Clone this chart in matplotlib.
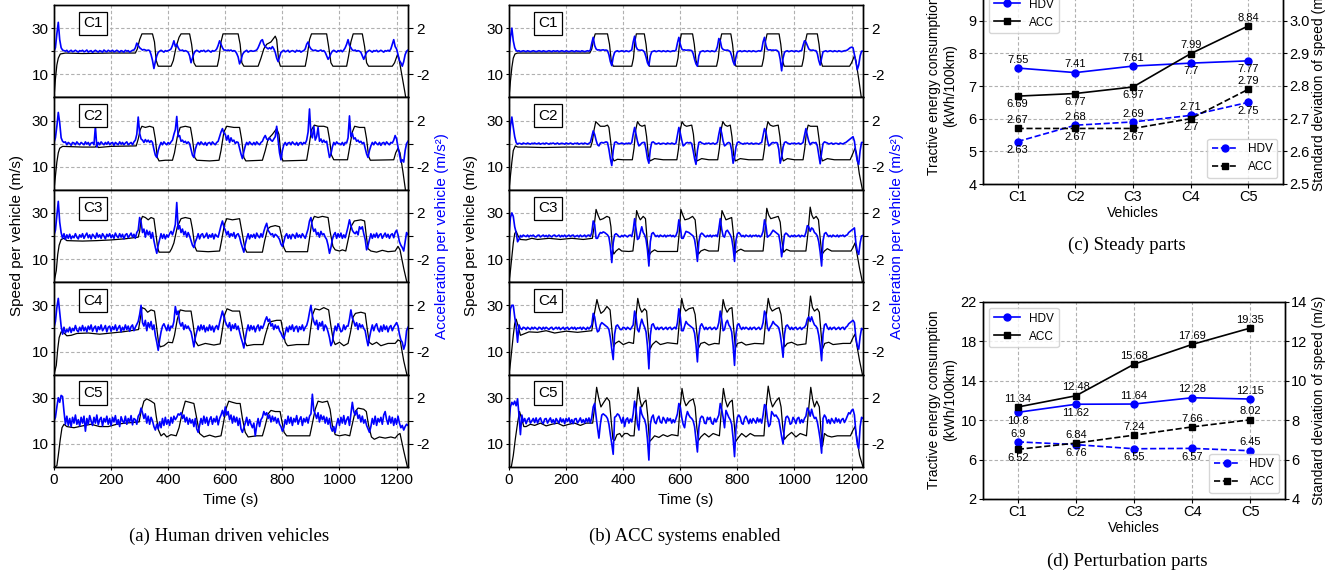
import numpy as np
import matplotlib
matplotlib.use('Agg')
import matplotlib.pyplot as plt
from matplotlib.ticker import FormatStrFormatter

plt.rcParams['font.family'] = ['Liberation Sans', 'DejaVu Sans']
plt.rcParams['axes.linewidth'] = 1.0

# ---------------- data ----------------
vehicles = ['C1', 'C2', 'C3', 'C4', 'C5']
time_ticks = [0, 200, 400, 600, 800, 1000, 1200]
speed_ticks = [10, 20, 30]
speed_tick_labels = ['10', '', '30']
acc_ticks = [-2, 0, 2]
acc_tick_labels = ['-2', '', '2']
acc_step = 5  # s, sampling step of acceleration values

# speed (time s, speed m/s) -- human driven
hdv_speed_c1 = [(0,0),(5,8),(10,14),(15,17),(22,18.8),(40,19.2),(100,19),(200,19.2),(285,19.2),(292,21),(300,25),(308,27.5),(345,27.5),(352,24),(358,16),(365,13.5),(410,13.5),(418,16),(428,22),(438,26),(445,27.5),(475,27.5),(482,23),(490,15),(497,13.5),(572,13.5),(578,17),(585,24),(592,27.5),(645,27.5),(652,23),(658,15),(665,13.5),(715,13.5),(725,17),(735,21),(745,23),(760,24),(775,26.5),(780,25),(787,16),(793,13.5),(880,13.5),(887,18),(895,25),(902,27.5),(955,27.5),(962,22),(970,15),(977,13.5),(1025,13.5),(1032,18),(1040,24),(1048,27.5),(1080,27.5),(1088,22),(1095,15),(1102,13.5),(1185,13.5),(1193,15),(1203,18.5),(1208,17),(1218,10),(1228,3),(1232,0)]
hdv_speed_c2 = [(0,0),(5,6),(10,12),(15,16),(20,18),(30,18.8),(100,18.5),(145,18.5),(150,19.5),(155,18.3),(200,18.8),(288,19),(295,22),(302,26),(308,27.5),(320,27),(335,27.5),(348,27),(355,22),(362,14),(368,12.5),(390,12.8),(415,12.8),(422,16),(432,23),(442,27),(460,27.5),(478,27),(485,22),(493,14),(500,12.8),(545,12.5),(578,12.8),(585,17),(595,25),(605,27.5),(630,27),(650,27),(657,22),(665,14),(672,12.5),(730,12.8),(740,17),(750,22),(765,24),(780,26.5),(788,24),(795,15),(802,12.5),(885,12.8),(892,18),(902,26),(912,28),(925,27.5),(945,27.5),(958,27),(965,22),(972,15),(980,13),(1028,13),(1035,18),(1045,25),(1053,27.5),(1070,27),(1088,27),(1095,22),(1102,14.5),(1108,12.8),(1190,13),(1197,16),(1205,18),(1212,16),(1222,8),(1231,0)]
hdv_speed_c3 = [(0,0),(8,5),(13,12),(18,16),(25,18.5),(35,19),(45,18),(100,17.8),(150,18),(200,18.3),(250,18.8),(295,19.5),(300,22),(305,27),(310,28.5),(320,28),(330,27),(340,28),(350,27.5),(356,22),(363,15),(368,13),(405,13),(412,14.5),(420,17),(432,24),(445,27.5),(460,28),(478,27.5),(485,23),(493,15.5),(500,13.5),(540,13.2),(580,13.5),(587,18),(597,25),(605,27.5),(625,27),(650,27.5),(658,22),(668,15),(675,13),(730,13),(738,18),(748,23),(758,24),(775,24.5),(790,24),(797,20),(805,15),(812,13.2),(888,13.2),(895,19),(903,26),(912,28.5),(925,28),(940,28.5),(960,28),(967,22),(977,15.5),(985,14),(1000,13.5),(1010,14),(1022,13.5),(1028,17),(1040,24),(1052,26.5),(1075,27),(1088,26.5),(1094,20),(1100,14.5),(1110,13.5),(1130,13),(1150,13.8),(1170,13.2),(1195,13.5),(1205,15.5),(1212,14),(1225,6),(1236,0)]
hdv_speed_c4 = [(0,0),(8,4),(13,11),(18,16),(25,18.5),(35,18),(45,16.8),(60,17),(80,17.8),(120,18),(160,17.5),(200,18),(240,18.5),(296,19.5),(302,24),(308,29),(318,28.5),(328,27),(340,28),(352,27.5),(358,22),(366,14),(372,12),(385,12.5),(400,14),(415,13.8),(422,17),(432,24),(442,28),(460,27.5),(480,27.5),(487,22),(495,14.5),(505,12.5),(530,13.5),(560,12.8),(582,13.3),(588,18),(598,26),(606,28.5),(625,27.5),(650,27.5),(658,22),(668,14.5),(675,12.5),(700,13),(732,13),(740,17),(752,22),(762,23),(780,23.5),(795,23.5),(802,19),(810,14),(818,12.5),(850,13),(892,13),(898,19),(906,26),(914,28.5),(930,28),(945,29),(962,28),(970,21),(978,15),(985,13),(1000,14),(1015,12.5),(1030,13.5),(1038,18),(1048,25),(1056,26.5),(1075,27),(1090,26.5),(1097,20),(1104,14),(1115,13),(1130,14),(1145,12.5),(1170,13.5),(1195,13.5),(1205,15),(1213,14.5),(1225,6),(1236,0)]
hdv_speed_c5 = [(0,0),(10,0.5),(15,5),(22,12),(28,17),(35,18.5),(45,17.5),(70,17),(100,17.8),(130,18.5),(160,17.5),(190,17.5),(220,18.5),(250,19),(298,19.5),(305,24),(315,28.5),(325,29.5),(340,28.5),(352,27.5),(358,22),(366,16),(375,13.5),(385,14.5),(395,13),(410,14),(428,13.5),(438,17),(450,24),(460,28.5),(475,28),(490,27.5),(500,21),(510,14.5),(525,13),(545,13.8),(565,13),(585,13.5),(592,18),(602,25),(612,28.5),(625,28),(640,27.5),(652,27.5),(660,21),(670,15),(680,13),(710,13.5),(730,13.5),(738,17),(750,23),(760,24.5),(775,24),(792,24),(798,20),(806,15),(815,13.5),(860,13.5),(896,13.5),(902,17),(915,25),(925,28.5),(940,28),(958,28.5),(967,25),(975,18),(985,14),(1000,13.5),(1020,14),(1036,13.5),(1042,17),(1055,24),(1065,25.5),(1085,25),(1094,24),(1102,18),(1112,13),(1122,12),(1140,13),(1160,12.5),(1180,13),(1195,12.5),(1205,14),(1212,14.5),(1225,7),(1238,0)]

# acceleration (m/s^2) every 5 s from t = 0 -- human driven
hdv_acc_c1 = [
    0, 0.3, 1.5, 2.5, 1.0, 0.3, 0.1, 0.05, 0, 0.08, -0.08, 0, 0.08, -0.05, 0, 0.08, 0, -0.08, 0.05, 0,
    0.08, -0.05, 0, 0.1, -0.08, 0, 0.05, -0.1, 0, 0.08, 0, -0.08, 0.05, 0, -0.08, 0.1, 0, -0.05, 0.08, 0,
    0, 0.08, -0.05, 0, 0.08, 0, -0.08, 0.05, 0, -0.08, 0.08, 0, 0.05, -0.08, 0, 0.08, 0.1, 0.3, 0.7, 0.5,
    0.3, 0.2, 0.1, 0.15, 0.1, 0.05, 0.1, 0.05, -0.3, -0.8, -1.5, -0.9, -0.4, -0.1, 0, 0.08, 0, -0.08, 0.05, 0,
    0.05, 0.1, 0.2, 0.5, 0.9, 0.4, 0.6, 0.3, 0.1, 0.05, 0.1, 0, 0.05, 0, -0.1, -0.4, -1.0, -0.6, -0.2, 0,
    0.08, 0, -0.08, 0.05, 0, 0.08, -0.05, 0, 0.08, 0, -0.08, 0.05, 0, 0.05, 0.2, 0.5, 0.9, 0.6, 0.3, 0.1,
    0.1, 0.05, 0.1, 0.05, 0.1, 0, 0.05, 0, -0.2, -0.5, -1.1, -0.8, -0.3, -0.1, 0, 0.08, -0.08, 0, 0.05, 0,
    0, 0.05, 0.1, 0.3, 0.6, 0.9, 1.0, 0.6, 0.4, 0.3, 0.2, 0.3, 0.2, 0.4, 0.2, -0.1, -0.6, -0.9, -0.5, -0.1,
    0, 0.08, -0.05, 0, 0.08, -0.08, 0, 0.05, 0, -0.08, 0.08, 0, 0.05, -0.08, 0, 0.05, 0.2, 0.6, 0.8, 0.4,
    0.2, 0.1, 0.05, 0.1, 0.05, 0, 0.05, 0.1, 0, 0.05, -0.1, -0.4, -0.7, -0.5, -0.2, 0, 0.08, 0, -0.08, 0.05,
    0, 0.08, -0.05, 0.1, 0.3, 0.6, 1.0, 0.5, 0.3, 0.1, 0.05, 0.1, 0, 0.05, 0, -0.1, -0.4, -0.7, -0.4, -0.1,
    0, 0.08, 0, -0.08, 0.05, 0, 0.08, -0.05, 0, 0.08, 0, -0.08, 0.05, 0, 0.08, 0, 0.2, 0.6, 1.0, 0.4,
    0.2, -0.3, -0.8, -1.0, -1.3, -0.9, -0.3, 0, 0.1]
hdv_acc_c2 = [
    0.1, 0.5, 1.5, 2.7, 1.8, 0.5, 0.2, 0.1, 0.15, -0.1, 0.1, 0, -0.15, 0.1, 0.05, -0.1, 0.15, 0, -0.1, 0.1,
    0, -0.1, 0.15, -0.05, 0.1, -0.15, 0.05, 0.1, -0.1, 1.5, -0.3, 0.1, -0.1, 0.15, 0, -0.1, 0.1, -0.05, 0.15, -0.1,
    0.05, 0.1, -0.15, 0.1, 0, -0.1, 0.15, -0.05, 0.1, -0.1, 0.05, 0.15, -0.1, 0, 0.1, -0.1, 0.15, 0.3, 0.8, 2.3,
    0.9, 0.4, 0.3, 0.1, 0.35, 0.15, 0.3, 0.1, 0.25, 0.1, -0.5, -1.0, -1.2, -0.6, -0.2, 0.1, -0.1, 0.15, 0, -0.1,
    0.1, -0.05, 0.15, 0.3, 0.8, 1.2, 2.35, 0.6, 0.7, 0.2, 0.3, 0.1, 0.2, 0, 0.15, 0, -0.5, -1.0, -1.2, -0.5,
    -0.1, 0.1, -0.1, 0.15, 0, -0.1, 0.1, -0.15, 0.05, 0.1, -0.1, 0.15, 0, -0.1, 0.1, 0.2, 0.6, 1.0, 1.3, 0.9,
    0.8, 0.3, 0.7, 0.1, 0.5, 0.2, 0.3, 0, 0.15, 0.1, -0.4, -0.9, -1.3, -0.7, -0.2, 0.1, -0.1, 0.15, 0, -0.1,
    0.1, -0.1, 0.15, 0, -0.1, 0.1, 0.2, 0.5, 0.7, 0.4, 0.3, 0.5, 0.3, 0.2, 0.4, 0.6, 1.5, 0.3, -0.8, -1.4,
    -0.6, -0.1, 0.1, -0.15, 0.05, 0.1, -0.1, 0.15, 0, -0.1, 0.1, -0.15, 0.05, 0.1, -0.1, 0.1, 0, 0.3, 1.0, 3.0,
    0.8, 0.5, 1.5, 0.3, 0.6, 1.4, 0.2, 0.4, 0.1, 0.3, 0.1, 0.2, -0.5, -1.2, -0.9, -0.3, 0.1, -0.1, 0.15, 0,
    0, -0.1, 0.1, -0.15, 0.1, 0.05, 0.5, 2.4, 0.6, 0.9, 0.4, 0.5, 0.2, 0.3, 0.1, 0.2, 0, 0.1, -0.4, -0.9,
    -1.2, -0.6, -0.2, 0.1, -0.1, 0.15, 0, -0.1, 0.1, -0.15, 0.05, 0.1, -0.1, 0.15, 0, -0.1, 0.1, 0.05, 0.3, 0.7,
    0.4, -0.3, -0.9, -1.6, -1.4, -1.6, -0.6, 0, 0.2]
hdv_acc_c3 = [
    0.1, 0.5, 1.8, 3.0, 1.2, 0.3, -0.2, 0.2, -0.3, 0.1, -0.2, 0.15, -0.25, 0, -0.15, 0.2, -0.1, -0.25, 0.1, -0.1,
    0.2, -0.2, 0.05, 0.25, -0.15, 0.1, -0.25, 0.15, 0, -0.2, 0.25, -0.1, 0.1, -0.2, 0.2, 0, -0.25, 0.15, -0.05, 0.2,
    -0.15, 0.1, -0.2, 0.25, 0, -0.15, 0.2, -0.1, 0.15, -0.25, 0.1, 0.2, -0.15, 0.05, 0.25, -0.1, 0.15, -0.2, 0.3, 0.5,
    1.6, 1.2, 0.3, 0.6, -0.1, 0.5, 0.1, 0.4, -0.2, 0.3, -0.4, -1.0, -1.5, -0.8, -0.3, 0.2, -0.2, 0.15, -0.25, 0.1,
    -0.1, 0.2, 0.4, 0.1, 0.5, 1.0, 2.9, 0.6, 0.9, 0.3, 0.6, 0.1, 0.4, -0.1, 0.3, 0, -0.4, -0.8, -1.0, -0.5,
    -0.2, 0.2, -0.25, 0.1, 0.2, -0.15, 0, 0.25, -0.2, 0.1, -0.1, 0.2, -0.25, 0.15, 0, -0.1, 0.4, 0.9, 1.3, 0.8,
    0.5, 0.1, 0.4, -0.1, 0.2, 0, 0.3, -0.2, 0.1, 0.2, -0.1, -0.6, -1.0, -1.4, -0.7, -0.2, 0.2, -0.25, 0.1, -0.1,
    0.15, -0.2, 0.25, 0, -0.15, 0.2, -0.1, 0.4, 0.8, 1.1, 0.5, 0.3, 0.1, 0.2, -0.1, 0.15, 0.05, -0.1, -0.3, -0.7,
    -0.9, -0.5, 0, 0.2, -0.2, 0.1, -0.25, 0.15, 0.05, -0.2, 0.25, -0.1, 0.1, -0.15, 0.2, 0, -0.2, 0.2, 0.6, 1.3,
    1.6, 0.8, 0.4, 0.6, 0.1, 0.3, -0.1, 0.4, 0.1, 0.2, -0.1, -0.3, -0.8, -1.5, -1.0, -0.3, 0.1, 0.3, -0.2, 0.2,
    -0.1, 0.25, -0.2, 0.1, -0.15, 0.3, 0.8, 1.4, 0.9, 0.5, 0.3, 0.2, 0.4, 0.1, 0.8, 0.6, 0.8, 0.2, -0.3, -1.2,
    -0.8, -0.3, 0.2, -0.2, 0.15, -0.1, 0.25, -0.15, 0.1, 0.2, -0.2, 0.05, 0.25, -0.1, 0.15, -0.2, 0.1, 0.2, -0.15, 0.3,
    0.5, 0.1, -0.5, -0.8, -1.0, -1.3, -0.5, 0.3, 0.1]
hdv_acc_c4 = [
    0.1, 0.6, 1.8, 2.6, 1.4, 0.2, -0.5, 0.1, -0.4, -0.1, -0.3, 0.1, -0.35, 0, -0.2, 0.25, -0.15, -0.3, 0.1, -0.2,
    0.25, -0.2, 0.1, -0.3, 0.2, -0.1, 0.3, -0.25, 0.05, 0.2, -0.3, 0.15, -0.1, 0.3, -0.2, 0, 0.25, -0.3, 0.1, 0.2,
    -0.25, 0.15, -0.1, 0.3, -0.2, 0.05, 0.25, -0.3, 0.1, -0.15, 0.3, -0.1, 0.2, -0.25, 0.15, 0.3, -0.2, 0.1, 0.35, 0.6,
    1.2, 2.0, 0.5, 0.2, 0.7, -0.2, 0.5, 0.1, 0.6, -0.1, 0.3, -0.6, -1.2, -1.9, -1.0, -0.3, 0.2, 0.4, 0.1, -0.2,
    0.3, -0.2, 0.2, 0.1, 0.6, 1.9, 1.2, 1.5, 0.5, 0.2, 0.5, -0.1, 0.3, 0, 0.2, -0.1, -0.3, -0.9, -1.6, -0.8,
    -0.3, 0.2, -0.2, 0.3, -0.1, 0.25, -0.3, 0.1, -0.2, 0.3, -0.15, 0.2, -0.3, 0.1, 0.25, -0.1, 0.5, 1.0, 1.5, 1.0,
    0.6, 0.3, 0.1, 0.5, -0.2, 0.3, 0, 0.4, -0.1, 0.2, -0.3, -0.8, -1.2, -1.7, -0.9, -0.2, 0.3, -0.2, 0.25, -0.1,
    0.2, -0.3, 0.1, 0.3, -0.2, 0.2, 0, 0.3, 0.7, 1.0, 0.6, 0.8, 0.2, 0.4, -0.1, 0.3, 0, 0.2, -0.2, -0.4,
    -0.7, -0.9, -0.4, 0.1, -0.3, 0.2, -0.1, 0.3, -0.25, 0.1, 0.2, -0.3, 0.15, -0.1, 0.3, -0.2, 0.1, 0.25, 0.7, 1.4,
    2.0, 1.1, 0.6, 0.3, 0.7, -0.1, 0.5, 0.2, 0.6, -0.2, 0.3, 0.1, -0.3, -0.8, -1.5, -1.2, -0.4, 0.2, -0.2, 0.4,
    0.1, -0.3, -0.2, 0.3, -0.1, 0.2, 0.2, 0.8, 1.6, 0.9, 0.6, 0.2, 0.5, -0.1, 0.4, 0.1, 0.3, 0, -0.2, -0.9,
    -1.5, -0.8, -0.2, 0.3, -0.2, 0.2, 0.4, -0.1, -0.3, 0.2, -0.25, 0.3, -0.1, 0.2, -0.3, 0.1, 0.25, -0.2, 0.1, 0.3,
    0.5, 0.2, -0.5, -1.0, -1.2, -1.8, -1.4, -0.2, 0.1]
hdv_acc_c5 = [
    0, 0.3, 1.2, 2.0, 1.6, 2.2, 2.1, 0.8, -0.3, 0.4, -0.4, 0.2, -0.5, 0.3, -0.2, 0.5, -0.3, 0.1, -0.45, 0.3,
    -0.2, 0.4, -0.9, 0.2, -0.3, 0.45, 0, -0.4, 0.3, -0.2, 0.5, -0.35, 0.1, 0.3, -0.45, 0.2, -0.1, 0.4, -0.3, 0.2,
    -0.4, 0.3, -0.1, 0.45, -0.3, 0.1, -0.5, 0.35, 0, -0.2, 0.4, -0.3, 0.2, -0.1, 0.45, -0.35, 0.2, 0.1, -0.3, 0.4,
    0.6, 1.1, 0.7, 0.2, 0.6, -0.2, 0.4, -0.3, 0.3, 0, -0.5, -0.8, -0.3, -0.7, -0.1, -0.6, 0.2, -0.4, 0.3, -0.3,
    0.1, -0.4, 0.3, -0.2, 0.4, 0.1, 0.3, 0.6, 0.5, 0.7, 0.2, 0.5, -0.1, 0.3, -0.3, 0.2, -0.2, 0.1, -0.5, 0.2,
    -0.7, -1.0, -0.4, 0.2, -0.3, 0.4, -0.2, 0.3, -0.4, 0.1, 0.35, -0.3, 0.2, -0.1, 0.4, -0.35, 0.2, 0.5, 0.9, 0.4,
    1.2, 0.5, 0.8, 0.1, 0.5, -0.2, 0.4, -0.1, 0.3, -0.4, 0.2, -0.7, -1.0, -0.6, -0.2, 0.3, -0.4, 0.1, -0.3, -0.6,
    -0.2, -1.3, -0.4, 0.2, -0.5, 0.1, 0.3, 0.8, 0.5, 0.7, 0.2, 0.5, -0.1, 0.4, 0, 0.3, -0.2, 0.2, -0.3, -0.5,
    -0.9, -0.6, 0.1, -0.3, 0.4, -0.2, 0.3, -0.4, 0.2, -0.1, 0.45, -0.3, 0.1, 0.35, -0.4, 0.2, -0.1, 0.3, -0.2, 0.4,
    0.6, 2.3, 0.9, 0.6, 0.2, 0.7, -0.1, 0.5, 0.1, 0.4, -0.2, 0.3, -0.3, 0.2, -0.6, -0.9, -0.5, -1.0, -0.3, 0.2,
    -0.4, 0.3, -0.2, 0.45, -0.3, 0.1, 0.35, -0.4, 0.6, 1.6, 0.8, 0.5, 0.9, 0.2, 0.5, -0.1, 0.4, -0.2, 0.1, -0.4,
    -0.7, -1.0, -0.5, 0.2, -0.3, 0.4, -0.4, 0.2, -0.1, 0.3, -0.3, 0.5, 0.8, 0.1, -0.3, 0.4, -0.2, 0.3, -0.4, 0.2,
    -0.3, 0.4, -0.2, -0.6, -0.4, -0.8, -0.5, -0.3, -0.4]

# speed -- ACC systems enabled
acc_speed_c1 = [(0,0),(5,7),(10,13),(15,17),(21,18.8),(30,19.2),(283,19.2),(290,21),(296,25),(302,27.5),(345,27.5),(352,23),(358,16),(365,13.5),(430,13.5),(436,17),(441,24),(446,27.5),(474,27.5),(480,23),(486,16),(492,13.5),(586,13.5),(592,17),(598,24),(604,27.5),(643,27.5),(649,23),(655,16),(661,13.5),(727,13.5),(733,17),(739,24),(745,27.5),(777,27.5),(783,23),(789,16),(795,13.5),(886,13.5),(892,17),(898,24),(904,27.5),(946,27.5),(952,23),(958,16),(964,13.5),(1026,13.5),(1032,17),(1038,24),(1044,27.5),(1080,27.5),(1086,23),(1092,16),(1098,13.5),(1193,13.5),(1200,15),(1210,18),(1215,16),(1225,8),(1234,0)]
acc_speed_c2 = [(0,0),(5,6),(10,12),(15,17),(22,19),(30,18.5),(60,18.5),(120,18.3),(200,18.5),(286,18.5),(292,21),(298,26),(304,29.5),(312,28.5),(320,27.5),(335,27.5),(345,28),(350,27),(356,21),(362,14),(368,12.5),(380,13.2),(400,13),(432,13),(438,18),(444,26),(450,29.5),(458,28),(466,27.5),(476,28),(482,23),(488,15),(494,12.5),(510,13.5),(540,13),(588,13),(594,18),(600,26),(606,29.5),(614,28),(622,27.5),(640,28),(646,24),(652,16),(658,12.5),(675,13.5),(700,13),(731,13),(737,18),(743,26),(749,29.5),(757,28),(765,27.5),(775,28),(781,23),(787,15),(793,12.5),(810,13.5),(840,13),(889,13),(895,18),(901,26),(907,29.5),(915,28),(925,27.5),(943,28),(949,23),(955,15),(961,12.5),(975,13.5),(1000,13),(1030,13),(1036,18),(1042,25),(1048,28),(1056,27.5),(1070,27.5),(1080,27.5),(1086,22),(1092,15),(1098,12.5),(1115,13.5),(1140,13),(1195,13),(1202,15),(1212,18),(1217,16),(1227,7),(1238,0)]
acc_speed_c3 = [(0,0),(5,5),(10,11),(15,17),(20,21),(25,22),(32,20),(40,18.5),(60,18.3),(80,19),(100,18.5),(140,19),(180,18.5),(220,19),(260,18.5),(292,19),(298,24),(305,31.5),(312,29),(319,27),(330,27.5),(343,28.5),(352,28),(357,24),(362,15),(367,12.2),(375,13.5),(385,14.5),(395,13.5),(420,13.3),(434,13.5),(440,20),(447,31),(454,28.5),(460,27),(470,28.5),(478,27.5),(484,18),(490,11.5),(498,13),(510,14),(520,13.3),(590,13.3),(596,21),(602,31.5),(609,29),(616,27),(630,27.5),(643,28.5),(652,27),(658,19),(664,12.2),(672,13.5),(685,14.2),(700,13.5),(733,13.5),(739,21),(746,31),(753,29),(760,27),(770,27.5),(780,28),(786,21),(792,12.5),(800,13.5),(812,14.3),(825,13.5),(890,13.5),(896,21),(903,32),(910,29),(917,27.5),(930,28),(943,28.5),(950,26),(956,18),(962,13),(972,14.2),(985,13.5),(1040,13.5),(1047,21),(1055,32.5),(1061,29),(1067,27.5),(1076,28.5),(1084,27),(1090,19),(1096,12),(1105,13.5),(1115,14.5),(1130,13.5),(1198,13.5),(1205,15),(1212,17),(1218,13),(1228,6),(1238,0)]
acc_speed_c4 = [(0,0),(5,5),(10,11),(15,17),(20,22),(25,24),(32,21),(40,17),(50,17.5),(70,18.5),(100,18.3),(130,19),(160,18),(200,18.8),(240,18.3),(290,19),(297,25),(308,32.5),(315,29),(322,26.5),(332,27.5),(343,29.5),(354,28),(360,20),(366,12),(372,13.5),(385,14.5),(400,13),(420,14),(436,13.5),(442,22),(451,33),(458,29),(465,27),(475,28.5),(482,27.5),(488,18),(494,11),(502,13),(515,14.5),(530,13),(555,13.8),(590,13.3),(596,22),(605,33),(612,29),(619,27.5),(630,28.5),(645,29),(652,26),(658,18),(664,11.5),(672,13.5),(685,14),(700,12.8),(720,13.5),(736,13.3),(742,22),(750,32.5),(757,29),(764,27),(772,28.5),(781,29),(787,20),(793,11.5),(800,13.5),(815,14),(830,12.8),(860,13.5),(892,13.3),(898,22),(908,33),(915,29),(922,27.5),(935,28.5),(946,29),(953,26),(959,18),(965,12),(975,13.5),(990,14),(1010,12.8),(1040,13.3),(1047,22),(1056,34),(1063,29),(1070,27.5),(1080,28.5),(1087,27),(1093,18),(1098,11),(1106,13.5),(1120,14),(1135,13),(1170,13.5),(1196,13.5),(1205,16),(1212,17.5),(1218,13),(1228,6),(1238,0)]
acc_speed_c5 = [(0,0),(8,0),(15,5),(22,12),(30,19),(37,24),(44,21),(52,17.5),(60,17.5),(75,18.5),(90,18),(110,19),(130,17.8),(150,18.5),(170,19),(190,17.8),(210,18.5),(230,19),(250,18),(270,19),(293,19),(300,26),(307,34.5),(314,30),(322,26),(332,28),(343,30),(352,28.5),(358,20),(364,12),(370,11.5),(378,14),(388,14.5),(395,13),(405,14.5),(415,14.5),(425,13.5),(438,13.5),(444,23),(452,34.5),(459,29),(465,26),(473,28),(480,29),(486,22),(492,11),(500,12),(510,13.5),(525,12.8),(540,14),(555,13.2),(570,14),(592,13.5),(598,24),(606,34),(613,29),(620,26.5),(632,28.5),(645,29.5),(652,26),(658,17),(664,11.5),(672,13),(685,14.5),(700,13),(715,14.5),(737,13.5),(743,23),(751,34),(758,29),(765,26),(773,28),(782,29),(788,20),(794,11),(802,12.5),(815,14.5),(830,13),(845,14.5),(860,13.5),(893,13.5),(899,24),(908,35),(916,29),(923,26),(935,28.5),(946,30),(953,26),(959,17),(965,12),(975,13.5),(990,15),(1005,13),(1020,14.5),(1042,13.5),(1048,23),(1057,34.5),(1064,29),(1070,26),(1078,28.5),(1087,26),(1093,15),(1098,9),(1105,14.5),(1115,13.5),(1130,13),(1150,13.5),(1196,13.5),(1205,16),(1212,17.5),(1218,13),(1228,5),(1240,0)]

# acceleration every 5 s -- ACC systems enabled
acc_acc_c1 = [
    0, 1.2, 2.0, 0.9, 0.3, 0.05, 0, 0.04, -0.04, 0, 0.04, 0, -0.04, 0.04, 0, -0.04, 0, 0.04, 0, -0.04,
    0, 0.04, 0, -0.04, 0.04, 0, -0.04, 0, 0.04, 0, -0.04, 0.04, 0, 0, 0.04, -0.04, 0, 0.04, 0, -0.04,
    0.04, 0, -0.04, 0, 0.04, 0, -0.04, 0.04, 0, 0, -0.04, 0.04, 0, -0.04, 0, 0.04, 0, 0.1, 0.7, 1.2,
    0.5, 0.2, 0.1, 0.12, 0.08, 0.1, 0.12, 0.08, 0.1, 0.05, -0.3, -0.9, -1.25, -0.5, -0.1, 0, 0.04, -0.04, 0, 0.04,
    0, -0.04, 0.04, 0, -0.04, 0.04, 0.1, 0.8, 1.3, 0.4, 0.15, 0.1, 0.08, 0.1, 0.05, -0.1, -0.5, -1.0, -1.25, -0.4,
    -0.05, 0, 0.04, -0.04, 0, 0.04, 0, -0.04, 0.04, 0, -0.04, 0.04, 0, -0.04, 0, 0.04, 0, 0.1, 0.7, 1.2,
    0.6, 0.2, 0.1, 0.12, 0.08, 0.1, 0.1, 0.08, 0.05, -0.2, -0.7, -1.1, -1.3, -0.4, -0.05, 0, 0.04, -0.04, 0, 0.04,
    0, -0.04, 0.04, 0, -0.04, 0.05, 0.4, 1.1, 0.9, 0.3, 0.15, 0.1, 0.08, 0.1, 0.05, -0.05, -0.4, -0.9, -1.2, -0.5,
    -0.05, 0, 0.04, -0.04, 0, 0.04, 0, -0.04, 0.04, 0, -0.04, 0.04, 0, -0.04, 0, 0.04, 0, 0.1, 0.8, 1.2,
    0.5, 0.15, 0.1, 0.12, 0.08, 0.1, 0.08, 0.1, 0.05, -0.1, -0.7, -1.7, -0.6, -0.1, 0, 0.04, -0.04, 0, 0.04, 0,
    -0.04, 0.04, 0, -0.04, 0.04, 0.05, 0.5, 0.9, 0.8, 0.5, 0.2, 0.1, 0.08, 0.1, 0.05, 0.05, -0.2, -0.8, -1.2, -0.6,
    -0.05, 0, 0.04, -0.04, 0, 0.04, 0, -0.04, 0.04, 0, -0.04, 0.04, 0, -0.04, 0, 0.04, 0.05, 0.1, 0.2, 0.3,
    0.35, 0.3, -0.3, -0.9, -1.6, -1.2, -0.4, 0, 0]
acc_acc_c2 = [
    0, 1.5, 2.3, 1.4, 0.6, 0.1, -0.05, 0.03, 0, -0.05, 0.05, 0, -0.03, 0.05, 0, -0.05, 0.03, 0, 0.05, -0.03,
    0, 0.05, -0.05, 0, 0.03, -0.03, 0.05, 0, -0.05, 0.03, 0, 0.05, -0.03, 0, 0.05, -0.05, 0, 0.03, 0, -0.05,
    0.05, 0, -0.03, 0.05, 0, -0.05, 0.03, 0, 0.05, -0.05, 0, 0.03, -0.03, 0.05, 0, -0.05, 0.03, 0.1, 0.6, 1.1,
    0.8, 0.3, -0.1, -0.2, 0.05, 0.1, 0.05, 0.1, 0.15, 0.1, -0.5, -1.3, -1.9, -0.6, 0.1, 0.15, 0.05, -0.03, 0, 0.05,
    0, -0.05, 0.03, 0, 0.05, -0.03, 0.1, 0.8, 1.4, 0.8, 0.2, -0.2, -0.1, 0.05, 0.1, 0.1, -0.5, -1.3, -1.7, -0.5,
    0.1, 0.15, 0.05, -0.03, 0, 0.05, -0.05, 0, 0.03, 0, -0.05, 0.05, 0, -0.03, 0.05, 0, -0.05, 0.05, 0.7, 1.4,
    0.9, 0.3, -0.2, -0.1, 0.05, 0.1, 0.05, 0.1, 0, -0.6, -1.3, -1.8, -0.6, 0.1, 0.15, 0.05, 0, -0.05, 0.03, 0,
    0.05, -0.03, 0, 0.05, -0.05, 0, 0.1, 0.8, 1.4, 0.9, 0.2, -0.2, -0.1, 0.05, 0.1, 0, -0.6, -1.7, -1.2, -0.3,
    0.1, 0.15, 0.05, 0, -0.05, 0.03, 0, 0.05, -0.03, 0, 0.05, -0.05, 0, 0.03, 0, -0.05, 0.05, 0.1, 0.7, 1.3,
    1.0, 0.3, -0.2, -0.1, 0.05, 0.1, 0.05, 0.1, 0.05, -0.5, -1.7, -1.2, -0.3, 0.1, 0.15, 0.05, 0, -0.05, 0.03, 0,
    0.05, -0.03, 0, 0.05, -0.05, 0, 0.1, 0.7, 1.3, 0.7, 0.2, -0.1, 0.05, 0.1, 0.05, 0.1, -0.2, -1.0, -1.75, -0.8,
    0, 0.15, 0.1, 0.05, -0.03, 0, 0.05, -0.05, 0, 0.03, 0, -0.05, 0.05, 0, -0.03, 0.05, 0.1, 0.2, 0.3, 0.4,
    0.5, 0.6, 0.2, -0.8, -1.5, -1.8, -0.6, 0.1, 0.1]
acc_acc_c3 = [
    0.2, 1.6, 2.0, 1.7, 0.8, 0.3, -0.5, -0.3, 0.05, -0.08, 0.08, 0, -0.05, 0.08, -0.08, 0.05, 0, 0.08, -0.05, -0.08,
    0.05, 0.08, -0.08, 0, 0.08, -0.05, 0.05, -0.08, 0.08, 0, -0.08, 0.05, 0.08, -0.05, 0, 0.08, -0.08, 0.05, -0.05, 0.08,
    -0.08, 0, 0.08, -0.05, 0.05, 0.08, -0.08, 0, 0.05, -0.08, 0.08, -0.05, 0, 0.08, -0.08, 0.05, 0.08, -0.05, 0.3, 1.3,
    1.0, -0.2, -0.2, 0.1, 0.3, 0.25, 0.35, 0.3, 0.2, 0.1, -0.1, -0.9, -2.3, -0.6, 0.1, 0.2, 0.1, -0.05, -0.08, 0.05,
    -0.05, 0.08, 0, -0.08, 0.05, 0.08, -0.05, 0.5, 1.5, 0.6, -0.3, -0.2, 0.3, 0.8, 0.3, 0.1, -0.3, -1.2, -2.6, -0.5,
    0.2, 0.3, 0.1, -0.05, 0.05, -0.08, 0.08, 0, -0.05, 0.08, -0.08, 0.05, 0, 0.08, -0.05, 0.05, -0.08, 0.05, 0.4, 1.4,
    0.8, -0.2, -0.2, 0.1, 0.4, 0.35, 0.3, 0.2, 0.1, 0, -0.3, -1.1, -2.2, -0.5, 0.1, 0.25, 0.15, 0, -0.08, 0.05,
    -0.05, 0.08, -0.08, 0.05, 0, 0.08, -0.05, 0.6, 1.5, 0.6, 0, -0.1, 0.4, 0.5, 0.3, 0.1, -0.2, -1.0, -2.2, -0.4,
    0.2, 0.3, 0.15, -0.05, 0.05, -0.08, 0.08, 0, -0.05, 0.08, -0.08, 0.05, 0, 0.08, -0.05, 0.05, -0.08, 0.05, 0.4, 1.4,
    0.9, -0.1, 0, 0.1, 0.3, 0.5, 0.4, 0.3, 0.2, 0.1, -0.6, -1.8, -0.9, 0.1, 0.25, 0.15, 0, -0.08, 0.05, -0.05,
    0.08, -0.05, 0, 0.08, -0.08, 0.05, 0, -0.05, 0.3, 0.9, 0.8, 0.4, 0.7, 0.6, 0.3, 0.2, 0, -0.5, -1.4, -2.6,
    -0.4, 0.2, 0.3, 0.1, -0.05, 0.05, -0.08, 0.08, 0, -0.05, 0.08, -0.08, 0.05, 0, 0.08, -0.05, 0.05, 0.1, 0.3, 0.4,
    0.5, 0.6, 0.7, -0.6, -1.3, -1.6, -0.6, 0, 0.05]
acc_acc_c4 = [
    0.2, 1.7, 2.0, 2.0, 1.0, 0.2, -1.2, 0.3, 0, -0.1, 0.1, 0.05, -0.1, 0.1, 0, -0.1, 0.1, -0.05, 0.1, 0,
    -0.1, 0.1, 0.05, -0.1, 0.1, -0.05, 0.1, 0, -0.1, 0.05, 0.1, -0.1, 0, 0.1, -0.05, 0.1, -0.1, 0, 0.1, -0.1,
    0.05, 0.1, -0.1, 0, 0.1, -0.05, 0.1, -0.1, 0.05, 0, 0.1, -0.1, 0.1, 0, -0.1, 0.1, -0.05, 0.1, 0.3, 1.3,
    1.0, 0.2, -0.3, -0.2, 0.3, 0.5, 0.4, 0.3, 0.2, 0.1, -0.1, -0.8, -1.8, -2.7, -0.5, 0.2, 0.3, 0.1, -0.1, -0.1,
    0.1, 0.05, -0.1, 0.1, 0, -0.1, 0.1, 0.3, 1.5, 1.0, -0.1, -0.3, 0.3, 0.8, 0.4, 0.1, -0.3, -1.5, -3.5, -0.6,
    0.3, 0.4, 0.1, -0.1, 0.1, -0.1, 0.05, 0.1, -0.1, 0, 0.1, -0.1, 0.05, 0.1, -0.1, 0, 0.1, -0.05, 0.5, 1.7,
    1.0, -0.2, -0.2, 0.2, 0.6, 0.4, 0.3, 0.2, 0.1, 0, -0.4, -1.4, -2.9, -0.6, 0.2, 0.4, 0.15, -0.1, 0.1, -0.1,
    0.05, 0.1, -0.1, 0, 0.1, -0.1, 0.05, 0.5, 1.5, 0.8, -0.2, -0.1, 0.5, 0.7, 0.3, 0.1, -0.3, -1.5, -3.2, -0.5,
    0.3, 0.4, 0.1, -0.1, 0.1, -0.05, 0.1, 0, -0.1, 0.1, -0.1, 0.05, 0.1, -0.1, 0, 0.1, -0.1, 0.05, 0.5, 1.5,
    1.2, 0.1, -0.2, 0.1, 0.3, 0.6, 0.4, 0.3, 0.2, 0.05, -0.5, -1.4, -2.5, -0.5, 0.2, 0.3, 0.1, -0.1, 0.1, -0.1,
    0.05, 0.1, -0.1, 0, 0.1, -0.1, 0.05, 0.1, 0.3, 0.8, 1.0, 0.6, 1.0, 0.6, 0.3, 0.2, 0, -0.6, -1.5, -2.8,
    -0.5, 0.3, 0.4, 0.1, -0.1, 0.1, -0.1, 0.05, 0.1, -0.1, 0, 0.1, -0.1, 0.05, 0.1, -0.1, 0.1, 0.2, 0.4, 0.5,
    0.6, 0.7, 0.5, -0.8, -1.5, -1.8, -0.7, 0, -0.1]
acc_acc_c5 = [
    0, 1.2, 1.6, 1.4, 1.7, 1.3, 1.9, 0.5, -1.2, 0.5, -0.1, 0.2, -0.25, 0.1, 0.25, -0.2, 0, 0.2, -0.15, 0.25,
    -0.2, 0.1, 0.25, -0.1, -0.25, 0.15, 0.2, -0.2, 0.05, 0.25, -0.15, 0.1, -0.25, 0.2, 0, -0.2, 0.25, -0.1, 0.15, -0.25,
    0.2, -0.05, 0.25, -0.2, 0.1, -0.25, 0.15, 0.2, -0.2, 0, 0.25, -0.15, 0.1, -0.2, 0.2, -0.1, 0.25, -0.2, 0.3, 1.2,
    1.5, 0.4, -0.6, -1.5, -0.3, 0.5, 0.6, 0.5, 0.4, 0.2, -0.3, -1.2, -2.0, -2.9, 0.3, 0.4, 0.6, 0.5, 0.2, -0.2,
    0.3, -0.5, 0.1, 0.25, -0.2, 0.15, -0.1, 0.6, 1.7, 1.0, -0.3, -0.8, 1.2, 0.6, 0.3, 0.1, -0.4, -1.6, -3.4, -0.3,
    0.3, 0.5, -0.1, -0.25, 0.2, 0.4, -0.1, -0.2, 0.3, 0.1, -0.2, 0.25, 0, 0.2, -0.2, 0.1, -0.15, 0.2, 0.6, 1.5,
    1.2, 0.3, -0.3, -0.6, 0.3, 0.8, 0.5, 0.3, 0.2, 0, -0.5, -1.6, -2.7, -0.6, 0.2, 0.4, 0.3, -0.2, -0.25, 0.3,
    0.1, 0.3, -0.2, -0.3, 0.2, -0.1, 0.2, 0.5, 1.5, 1.0, 0.3, -0.6, 0.9, 0.6, 0.3, 0.1, -0.3, -1.5, -3.1, -0.6,
    0.3, 0.5, 0.3, -0.2, -0.3, 0.2, 0.4, 0.1, -0.25, 0.15, -0.2, 0.2, 0, -0.2, 0.25, -0.1, 0.15, -0.2, 0.5, 1.4,
    1.3, 0.2, -0.5, -0.3, 0.8, 0.6, 0.4, 0.5, 0.3, 0.1, -0.6, -1.4, -2.0, -0.5, 0.3, 0.4, 0.2, -0.3, -0.2, 0.3,
    0.1, -0.25, 0.2, 0.3, -0.2, 0.1, -0.15, 0.2, 0.4, 1.1, 0.9, 0.4, 1.0, 0.5, 0.2, 0.3, -0.1, -0.8, -1.6, -2.8,
    0.2, 0.5, 0.3, -0.2, 0.1, -0.25, 0.2, 0, -0.2, 0.25, -0.1, 0.15, -0.2, 0.1, 0.2, -0.15, 0.1, 0.4, 0.7, 0.6,
    0.9, 1.0, 0.5, -1.0, -2.0, -2.4, -0.5, 0.3, 0.2]

hdv_speed = [hdv_speed_c1, hdv_speed_c2, hdv_speed_c3, hdv_speed_c4, hdv_speed_c5]
hdv_acc = [hdv_acc_c1, hdv_acc_c2, hdv_acc_c3, hdv_acc_c4, hdv_acc_c5]
acc_speed = [acc_speed_c1, acc_speed_c2, acc_speed_c3, acc_speed_c4, acc_speed_c5]
acc_acc = [acc_acc_c1, acc_acc_c2, acc_acc_c3, acc_acc_c4, acc_acc_c5]

# summary panels
steady_energy_hdv = [7.55, 7.41, 7.61, 7.7, 7.77]
steady_energy_acc = [6.69, 6.77, 6.97, 7.99, 8.84]
steady_std_hdv = [2.63, 2.68, 2.69, 2.71, 2.75]
steady_std_acc = [2.67, 2.67, 2.67, 2.7, 2.79]
pert_energy_hdv = [10.8, 11.62, 11.64, 12.28, 12.15]
pert_energy_acc = [11.34, 12.48, 15.68, 17.69, 19.35]
pert_std_hdv = [6.9, 6.76, 6.55, 6.57, 6.45]
pert_std_acc = [6.52, 6.84, 7.24, 7.66, 8.02]
# label placement (+1 above the point, -1 below)
steady_energy_hdv_pos = [1, 1, 1, -1, -1]
steady_energy_acc_pos = [-1, -1, -1, 1, 1]
steady_std_hdv_pos = [-1, 1, 1, 1, -1]
steady_std_acc_pos = [1, -1, -1, -1, 1]
pert_energy_hdv_pos = [-1, -1, 1, 1, 1]
pert_energy_acc_pos = [1, 1, 1, 1, 1]
pert_std_hdv_pos = [1, -1, -1, -1, 1]
pert_std_acc_pos = [-1, 1, 1, 1, 1]

# ---------------- figure ----------------
W, H = 1336, 575
fig = plt.figure(figsize=(W / 100, H / 100), dpi=100)


def fx(p):
    return p / W


def fy(p):
    return 1 - p / H


GRID = dict(color='#b0b0b0', linestyle='--', linewidth=0.8, dashes=(3, 2))


def draw_stack(x0, x1, speeds, accs):
    top0, bot = 5.0, 467.0
    h = (bot - top0) / 5
    for i in range(5):
        top = top0 + i * h
        ax = fig.add_axes([fx(x0), fy(top + h), (x1 - x0) / W, h / H])
        ax2 = ax.twinx()
        t, v = zip(*speeds[i])
        ax.plot(t, v, color='black', lw=0.9)
        ta = acc_step * np.arange(len(accs[i]))
        ax2.plot(ta, accs[i], color='#0000ff', lw=1.2)
        ax.set_xlim(0, 1240)
        ax.set_ylim(0, 40)
        ax2.set_ylim(-4, 4)
        ax.set_xticks(time_ticks)
        ax.set_yticks(speed_ticks, speed_tick_labels)
        ax2.set_yticks(acc_ticks, acc_tick_labels)
        ax.grid(True, **GRID)
        ax.tick_params(axis='both', labelsize=11, length=2.5, width=0.8, pad=1.5)
        ax2.tick_params(axis='y', labelsize=11, length=3.5, width=0.8, pad=2.5)
        if i < 4:
            ax.tick_params(axis='x', labelbottom=False)
        ax2.text(0.11, 0.8, vehicles[i], transform=ax.transAxes, ha='center', va='center',
                 fontsize=11, zorder=10,
                 bbox=dict(boxstyle='square,pad=0.3', fc='white', ec='black', lw=0.9))


draw_stack(54, 408, hdv_speed, hdv_acc)
draw_stack(509, 863, acc_speed, acc_acc)

for xl, xr in [(17, 442), (471, 897)]:
    fig.text(fx(xl), fy(236), 'Speed per vehicle (m/s)', rotation=90, ha='center', va='center', fontsize=11)
    fig.text(fx(xr), fy(236), 'Acceleration per vehicle (m/s\u00b2)', rotation=90, ha='center',
             va='center', fontsize=11, color='#0000ff')
fig.text(fx(231), fy(500), 'Time (s)', ha='center', va='center', fontsize=11)
fig.text(fx(686), fy(500), 'Time (s)', ha='center', va='center', fontsize=11)

serif = ['Liberation Serif', 'DejaVu Serif']
fig.text(fx(229), fy(536), '(a) Human driven vehicles', ha='center', va='center', fontsize=13.5, family=serif)
fig.text(fx(685), fy(536), '(b) ACC systems enabled', ha='center', va='center', fontsize=13.5, family=serif)
fig.text(fx(1127), fy(245), '(c) Steady parts', ha='center', va='center', fontsize=13.5, family=serif)
fig.text(fx(1127), fy(561), '(d) Perturbation parts', ha='center', va='center', fontsize=13.5, family=serif)


def annotate(ax, vals, pos):
    for i, (v, p) in enumerate(zip(vals, pos)):
        ax.annotate(f'{v:g}', (i, v), xytext=(0, 6 * p), textcoords='offset points',
                    ha='center', va='center', fontsize=8)


def draw_summary(rect, e_hdv, e_acc, s_hdv, s_acc, pos, ylim, y2lim, yticks, y2ticks, fmt2, ymid):
    ax = fig.add_axes(rect)
    ax2 = ax.twinx()
    x = np.arange(len(vehicles))
    ax.plot(x, e_hdv, '-o', color='#0000ff', ms=5, lw=1.2, label='HDV')
    ax.plot(x, e_acc, '-s', color='black', ms=5, lw=1.2, label='ACC')
    ax2.plot(x, s_hdv, '--o', color='#0000ff', ms=5, lw=1.2, label='HDV')
    ax2.plot(x, s_acc, '--s', color='black', ms=5, lw=1.2, label='ACC')
    annotate(ax, e_hdv, pos[0])
    annotate(ax, e_acc, pos[1])
    annotate(ax2, s_hdv, pos[2])
    annotate(ax2, s_acc, pos[3])
    ax.set_xlim(-0.6, 4.6)
    ax.set_ylim(*ylim)
    ax2.set_ylim(*y2lim)
    ax.set_xticks(x, vehicles)
    ax.set_yticks(yticks)
    ax2.set_yticks(y2ticks)
    ax2.yaxis.set_major_formatter(FormatStrFormatter(fmt2))
    ax.grid(True, **GRID)
    ax.tick_params(axis='both', labelsize=10.5, length=3, width=0.8, pad=1.5)
    ax2.tick_params(axis='y', labelsize=10.5, length=3, width=0.8, pad=1.5)
    ax.set_xlabel('Vehicles', fontsize=10, labelpad=1)
    ax.legend(loc='upper left', fontsize=8.5, handlelength=2.2)
    ax2.legend(loc='lower right', fontsize=8.5, handlelength=2.2)
    fig.text(fx(942), fy(ymid), 'Tractive energy consumption\n(kWh/100km)', rotation=90,
             ha='center', va='center', fontsize=10, multialignment='center')
    fig.text(fx(1319), fy(ymid), 'Standard deviation of speed (m/s)', rotation=90,
             ha='center', va='center', fontsize=10)


draw_summary([fx(983), fy(184), 300 / W, 196 / H],
             steady_energy_hdv, steady_energy_acc, steady_std_hdv, steady_std_acc,
             [steady_energy_hdv_pos, steady_energy_acc_pos, steady_std_hdv_pos, steady_std_acc_pos],
             (4, 10), (2.5, 3.1), [4, 5, 6, 7, 8, 9], [2.5, 2.6, 2.7, 2.8, 2.9, 3.0], '%.1f', 86)
draw_summary([fx(983), fy(499), 302 / W, 197 / H],
             pert_energy_hdv, pert_energy_acc, pert_std_hdv, pert_std_acc,
             [pert_energy_hdv_pos, pert_energy_acc_pos, pert_std_hdv_pos, pert_std_acc_pos],
             (2, 22), (4, 14), [2, 6, 10, 14, 18, 22], [4, 6, 8, 10, 12, 14], '%g', 400)

fig.savefig('out.png', dpi=100)
